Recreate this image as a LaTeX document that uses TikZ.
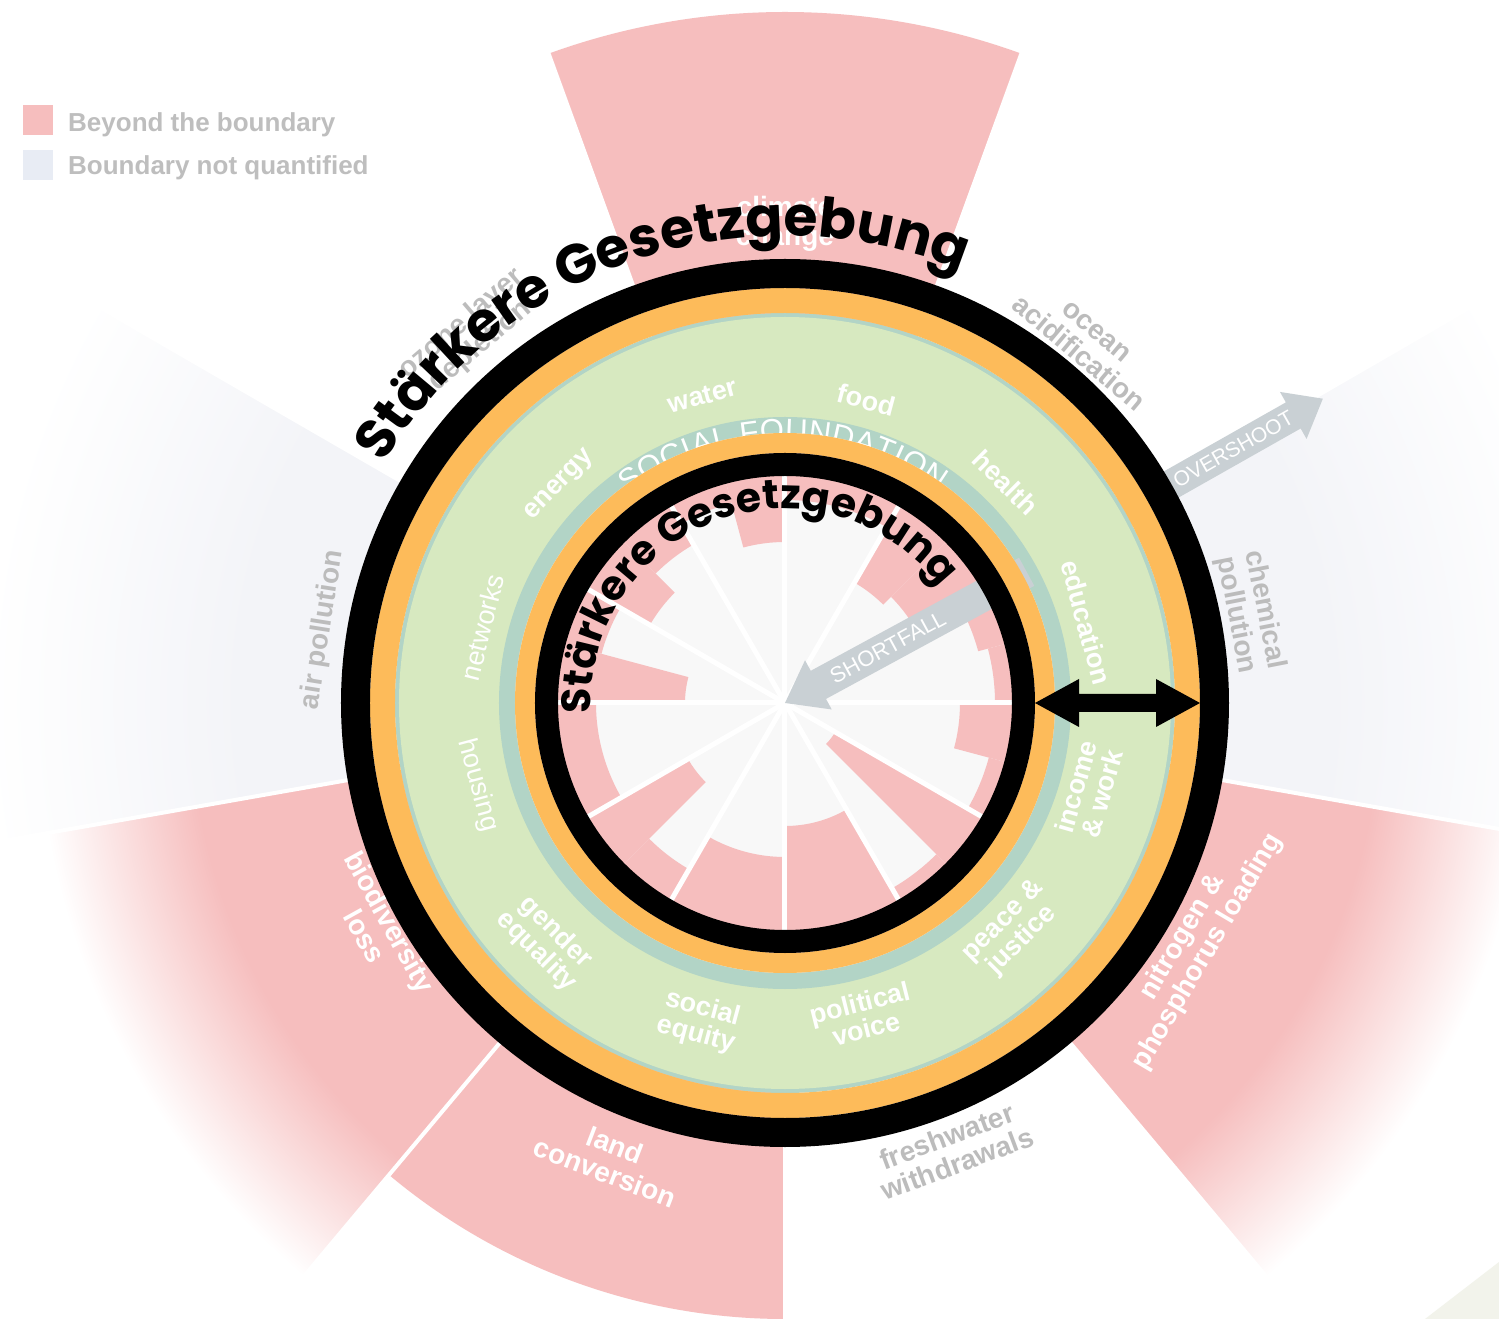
\documentclass[tikz,border=0pt]{standalone}
\usepackage{fontspec}
\setmainfont{Liberation Sans}
\newfontfamily\starkfont{Poppins}
\usetikzlibrary{decorations.text}
\definecolor{bpink}{RGB}{246,190,190}
\definecolor{nqgrey}{RGB}{243,244,248}
\definecolor{dgreen}{RGB}{215,233,192}
\definecolor{dteal}{RGB}{178,212,198}
\definecolor{dorange}{RGB}{253,187,90}
\definecolor{igrey}{RGB}{248,248,248}
\definecolor{lblgrey}{RGB}{188,188,188}
\definecolor{arrgrey}{RGB}{201,208,212}
\definecolor{leggrey}{RGB}{190,190,190}
\definecolor{legblue}{RGB}{232,236,244}
\definecolor{beigefrag}{RGB}{242,243,235}
\pgfdeclareradialshading{pinkfade}{\pgfpoint{0bp}{0bp}}{color(0bp)=(bpink); color(18.6bp)=(bpink); color(23.4bp)=(white); color(25bp)=(white); color(50bp)=(white)}
\pgfdeclareradialshading{greyfade}{\pgfpoint{0bp}{0bp}}{color(0bp)=(nqgrey); color(17bp)=(nqgrey); color(25bp)=(white); color(50bp)=(white)}
\newcommand\sfw[3]{\fill[bpink] (#1:#3) arc[start angle=#1,end angle=#2,radius=#3] -- (#2:250) arc[start angle=#2,end angle=#1,radius=250] -- cycle;}
\newcommand\fadewedge[3]{\begin{scope}\clip (0,0) -- (#1:1100) arc[start angle=#1,end angle=#2,radius=1100] -- cycle; \shade[shading=#3] (0,0) circle (800);\end{scope}}
\begin{document}
\begin{tikzpicture}[x=1pt,y=1pt,
  soc/.style={text=white, font=\bfseries\fontsize{27}{27}\selectfont, align=center, inner sep=0},
  socr/.style={text=white, font=\fontsize{27}{27}\selectfont, align=center, inner sep=0},
  pb/.style={text=lblgrey, font=\bfseries\fontsize{28}{29}\selectfont, align=center, inner sep=0},
  pbw/.style={text=white, font=\bfseries\fontsize{28}{29}\selectfont, align=center, inner sep=0},
  arrtext/.style={text=white, font=\fontsize{22}{22}\selectfont, inner sep=0},
  legtext/.style={text=leggrey, font=\bfseries\fontsize{26}{26}\selectfont, anchor=west, inner sep=0}]
\useasboundingbox (-785,-616) rectangle (714,703);
\clip (-785,-616) rectangle (714,703);
\fill[white] (-785,-616) rectangle (714,703);
% ecological ceiling wedges
\fill[bpink] (0,0) -- (70:691) arc[start angle=70,end angle=110,radius=691] -- cycle;
\fill[bpink] (0,0) -- (230:616) arc[start angle=230,end angle=270,radius=616] -- cycle;
\fadewedge{190}{230}{pinkfade}
\fadewedge{-50}{-10}{pinkfade}
\fadewedge{150}{190}{greyfade}
\fadewedge{-10}{30}{greyfade}
\foreach \a in {-50,-10,30,70,110,150,190,230,270} \draw[white, line width=4] (0,0) -- (\a:1100);
\fill[beigefrag] (640,-616) -- (714,-559) -- (714,-616) -- cycle;
% planetary boundary labels
\node[pbw] (cc) at (90:479) {climate\\change};
\node[pb, rotate=40.5] (oz) at (130.5:484) {ozone layer\\depletion};
\node[pb, rotate=-40] (oa) at (50:470) {ocean\\acidification};
\node[pb, rotate=-79] (cp) at (11:474) {chemical\\pollution};
\node[pb, rotate=81] (ap) at (171:468) {air pollution};
\node[pb, rotate=20.5] (fw) at (-69.5:477) {freshwater\\withdrawals};
\node[pbw, rotate=-21] (lc) at (-111:488) {land\\conversion};
\node[pbw, rotate=-61] (bl) at (-151:466) {biodiversity\\loss};
\node[pbw, rotate=59.5] (np) at (-30.5:476) {nitrogen \&\\phosphorus loading};
% overshoot arrow
\begin{scope}[rotate=29.5]
\fill[arrgrey] (380,-15) -- (584,-15) -- (584,-27) -- (618,0) -- (584,27) -- (584,15) -- (380,15) -- cycle;
\end{scope}
\node[arrtext, font=\fontsize{21}{21}\selectfont, rotate=29.5] (os) at (29.5:515) {OVERSHOOT};
% doughnut bands
\fill[dteal] (0,0) circle (390);
\fill[dgreen] (0,0) circle (386);
\fill[dteal] (0,0) circle (286);
\fill[igrey] (0,0) circle (270);
% shortfall wedges
\sfw{0}{15}{210}
\sfw{15}{30}{200}
\sfw{30}{45}{150}
\sfw{45}{60}{139}
\sfw{60}{90}{203}
\sfw{90}{105}{161}
\sfw{105}{120}{207}
\sfw{120}{135}{183}
\sfw{135}{150}{156}
\sfw{150}{165}{190}
\sfw{165}{180}{100}
\sfw{180}{210}{189}
\sfw{210}{225}{112}
\sfw{225}{240}{192}
\sfw{240}{270}{154}
\sfw{270}{300}{123}
\sfw{300}{315}{214}
\sfw{315}{330}{58}
\sfw{330}{345}{211}
\sfw{345}{360}{175}
\foreach \a in {0,30,...,330} \draw[white, line width=5] (0,0) -- (\a:250);
% shortfall arrow
\begin{scope}[rotate=28.5]
\fill[arrgrey] (0,0) -- (38,28) -- (38,16) -- (275,16) -- (275,-16) -- (38,-16) -- (38,-28) -- cycle;
\end{scope}
\node[arrtext, rotate=28.5] (sf) at (28.5:117) {SHORTFALL};
% social labels
\node[soc, rotate=15] (water) at (105:318) {water};
\node[soc, rotate=-15] (food) at (75:314) {food};
\node[soc, rotate=-45] (health) at (45:312) {health};
\node[soc, rotate=-75] (edu) at (15:312) {education};
\node[soc, rotate=74] (inc) at (-16:316) {income\\\& work};
\node[soc, rotate=45] (peace) at (-45:322) {peace \&\\justice};
\node[soc, rotate=14] (pol) at (-76:322) {political\\voice};
\node[soc, rotate=-15] (seq) at (-105:330) {social\\equity};
\node[soc, rotate=-45] (geq) at (-135:338) {gender\\equality};
\node[socr, rotate=-75] (hous) at (-165:318) {housing};
\node[socr, rotate=76] (netw) at (166:312) {networks};
\node[soc, rotate=46] (energy) at (136:313) {energy};
\path[decorate, decoration={text along path, text align={fit to path}, text color=white,
  text={|\fontsize{31}{31}\selectfont|SOCIAL FOUNDATION}}]
  (127:262) arc[start angle=127, end angle=54, radius=262];
% rings
\draw[dorange, line width=25] (0,0) circle (402.5);
\draw[dorange, line width=20] (0,0) circle (260);
\draw[black, line width=29] (0,0) circle (429.5);
\draw[black, line width=23] (0,0) circle (238.5);
% curved titles
\path[decorate, decoration={text along path, text align=center,
  text={|\starkfont\bfseries\fontsize{55}{55}\selectfont|Stärkere Gesetzgebung}}]
  (163.5:467) arc[start angle=163.5, end angle=53.5, radius=467];
\path[decorate, decoration={text along path, text align=center,
  text={|\starkfont\bfseries\fontsize{41}{41}\selectfont|Stärkere Gesetzgebung}}]
  (200:194) arc[start angle=200, end angle=20, radius=194];
% double arrow
\coordinate (da) at (250,0);
\coordinate (db) at (415,0);
\fill[black] (da) -- (294,24) -- (294,9) -- (371,9) -- (371,24) -- (db) -- (371,-24) -- (371,-9) -- (294,-9) -- (294,-24) -- cycle;
% legend
\fill[bpink] (-762,568) rectangle (-732,598);
\fill[legblue] (-762,523) rectangle (-732,553);
\node[legtext] (l1) at (-717,578) {Beyond the boundary};
\node[legtext] (l2) at (-717,535) {Boundary not quantified};
\end{tikzpicture}
\end{document}
